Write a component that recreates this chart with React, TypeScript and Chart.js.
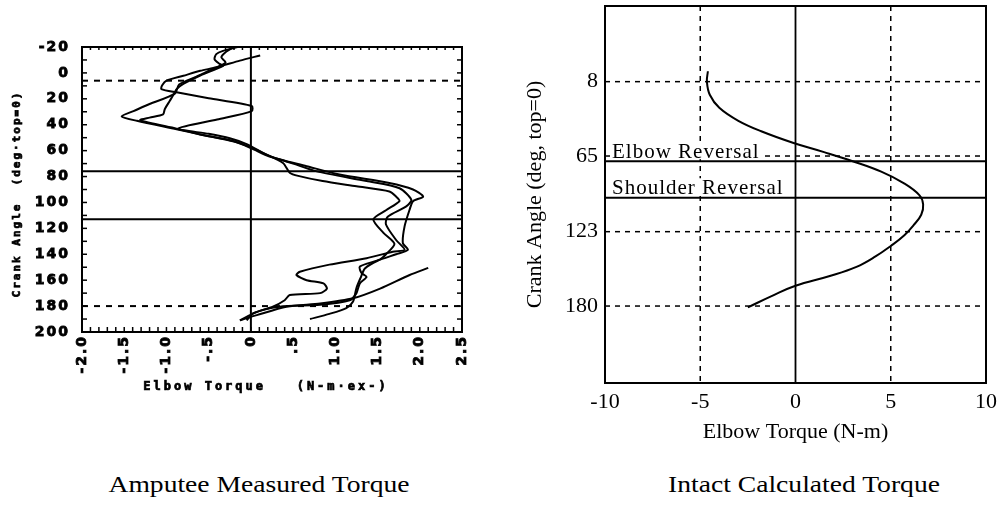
import React, { useEffect, useRef } from "react";
import { Chart, registerables } from "chart.js";

Chart.register(...registerables);

// ---------- Left chart: Amputee Measured Torque ----------
const ampXTickLabels = ["-2.0", "-1.5", "-1.0", "-.5", "0", ".5", "1.0", "1.5", "2.0", "2.5"];
const ampXTitle = "Elbow Torque   (N-m·ex-)";
const ampYTitle = "Crank Angle  (deg·top=0)";
const ampDashedAngles = [6, 180];
const ampSolidAngles = [76, 113];
const ampSolidTorques = [0];

const trial1Torque = [-0.09, -0.33, -0.41, -0.43, -0.37, -0.33, -0.6, -0.8, -0.88, -0.9, -0.96, -1.02, -1.04, -1.2, -1.31, -0.88, -0.6, -0.21, 0.0, 0.22, 0.5, 0.78, 1.37, 1.76, 1.9, 1.84, 1.62, 1.6, 1.72, 1.82, 1.68, 1.37, 0.93, 0.58, 0.54, 0.66, 0.86, 0.9, 0.82, 0.46, 0.4, 0.26, 0.07, -0.13];
const trial1Angle = [-21, -17, -14.5, -10.5, -7, -5.5, 2, 8.5, 12.5, 15, 21.5, 28, 32, 34.5, 36.5, 43, 47.5, 52.5, 57.5, 64, 70, 76, 83.5, 89, 98, 103, 111, 117, 129, 136.5, 138, 143, 148, 153.5, 156, 160, 162.5, 166.5, 170, 171.5, 175.5, 180.5, 184.5, 191];

const trial2Torque = [0.11, -0.13, -0.41, -0.6, -0.8, -1.0, -1.05, -1.06, -0.88, -0.5, 0.01, 0.01, -0.4, -0.86, -0.5, -0.25, -0.05, 0.15, 0.38, 0.46, 0.56, 0.85, 1.25, 1.64, 1.72, 1.76, 1.6, 1.45, 1.57, 1.7, 1.6, 1.53, 1.29, 1.31, 1.37, 1.29, 1.25, 1.17, 0.82, 0.34, 0.03, -0.05];
const trial2Angle = [-13.5, -9.5, -4.3, -1.6, 2.2, 6, 9.5, 12.5, 15, 19.5, 25.5, 29.5, 36, 43, 47, 50.5, 55, 62, 69.5, 77, 79.5, 83.5, 87.5, 91.5, 95.5, 99, 106, 113, 123.5, 132, 140, 144, 149.5, 154.5, 157.5, 162.5, 170, 175.5, 179, 180.5, 185.5, 191];

const trial3Torque = [-0.2, -0.3, -0.35, -0.3, -0.45, -0.65, -0.85, -0.9, -1.2, -1.39, -1.53, -1.35, -0.88, -0.6, -0.2, 0.0, 0.22, 0.66, 1.05, 1.64, 1.92, 2.04, 1.92, 1.88, 1.82, 1.8, 1.86, 1.72, 1.5, 1.35, 1.3, 1.25, 1.21, 1.13, 0.93, 0.7];
const trial3Angle = [-20, -16, -12, -8, -3, 3, 9, 16, 24, 29.5, 33.5, 37, 43.5, 47.5, 53, 58, 64.5, 72, 78.5, 85, 90, 95.5, 99, 105.5, 118.5, 131.5, 136.5, 140, 145, 151, 158, 166, 176.5, 181.5, 186, 190];

const trial4Torque = [2.1, 1.88, 1.53, 1.21, 0.82, 0.42, 0.07, -0.13];
const trial4Angle = [150.5, 156, 166.5, 174, 178, 180.5, 187, 191];

// ---------- Right chart: Intact Calculated Torque ----------
const intactTorque = [-4.6, -4.65, -4.5, -4.0, -3.0, -1.8, -0.1, 1.5, 3.0, 4.5, 5.7, 6.5, 6.7, 6.6, 6.2, 5.7, 5.0, 4.2, 3.2, 1.8, 0.0, -1.2, -2.5];
const intactAngle = [0, 8, 18, 28, 38, 46, 55, 62, 69, 77, 86, 95, 102, 110, 118, 126, 134, 142, 150, 157, 164.5, 172, 181];
const intactYTicks = [8, 65, 123, 180];
const intactDashedAngles = [8, 65, 123, 180];
const intactDashedTorques = [-5, 5];
const intactSolidAngles = [69, 97];
const intactSolidTorques = [0];
const reversalLabels = ["Elbow Reversal", "Shoulder Reversal"];
const reversalAngles = [69, 97];

const toPoints = (xs: number[], ys: number[]) => xs.map((x, i) => ({ x, y: ys[i] }));

const tickFont = { family: "'DejaVu Sans', sans-serif", weight: "bold" as const, size: 14 };
const serifFont = { family: "'Liberation Serif', 'Times New Roman', serif", size: 22 };

const leftDecor = {
  id: "leftDecor",
  beforeDraw(chart: any) {
    chart.ctx.letterSpacing = "2px";
  },
  beforeDatasetsDraw(chart: any) {
    const { ctx, chartArea, scales } = chart;
    const { left, right, top, bottom } = chartArea;
    const x = scales.x, y = scales.y;
    ctx.save();
    ctx.strokeStyle = "#000";
    ctx.lineWidth = 2;
    ctx.setLineDash([6, 6]);
    for (const a of ampDashedAngles) {
      const py = y.getPixelForValue(a);
      ctx.beginPath(); ctx.moveTo(left, py); ctx.lineTo(right, py); ctx.stroke();
    }
    ctx.setLineDash([]);
    for (const a of ampSolidAngles) {
      const py = y.getPixelForValue(a);
      ctx.beginPath(); ctx.moveTo(left, py); ctx.lineTo(right, py); ctx.stroke();
    }
    for (const t of ampSolidTorques) {
      const px = x.getPixelForValue(t);
      ctx.beginPath(); ctx.moveTo(px, top); ctx.lineTo(px, bottom); ctx.stroke();
    }
    ctx.restore();
  },
  afterDatasetsDraw(chart: any) {
    const { ctx, chartArea, scales } = chart;
    const { left, right, top, bottom } = chartArea;
    const x = scales.x, y = scales.y;
    ctx.save();
    ctx.strokeStyle = "#000";
    ctx.lineWidth = 2;
    ctx.strokeRect(left, top, right - left, bottom - top);
    ctx.lineWidth = 1.5;
    for (let v = y.min; v <= y.max + 0.001; v += 10) {
      const py = y.getPixelForValue(v);
      ctx.beginPath(); ctx.moveTo(left, py); ctx.lineTo(left + 5, py); ctx.stroke();
      ctx.beginPath(); ctx.moveTo(right, py); ctx.lineTo(right - 5, py); ctx.stroke();
    }
    for (let i = 0; i <= 45; i++) {
      const px = x.getPixelForValue(x.min + i * 0.1);
      ctx.beginPath(); ctx.moveTo(px, bottom); ctx.lineTo(px, bottom - 5); ctx.stroke();
      ctx.beginPath(); ctx.moveTo(px, top); ctx.lineTo(px, top + 3); ctx.stroke();
    }
    ctx.restore();
  },
  afterDraw(chart: any) {
    const { ctx } = chart;
    ctx.save();
    ctx.fillStyle = "#000";
    ctx.strokeStyle = "#000";
    ctx.lineWidth = 0.7;
    ctx.textAlign = "center";
    ctx.textBaseline = "middle";
    // x axis title
    ctx.font = "bold 12px 'DejaVu Sans Mono', monospace";
    ctx.letterSpacing = "3px";
    ctx.fillText(ampXTitle, 266, 387);
    ctx.strokeText(ampXTitle, 266, 387);
    // y axis title
    ctx.font = "bold 11px 'DejaVu Sans Mono', monospace";
    ctx.letterSpacing = "2px";
    ctx.translate(17, 194);
    ctx.rotate(-Math.PI / 2);
    ctx.fillText(ampYTitle, 0, 0);
    ctx.strokeText(ampYTitle, 0, 0);
    ctx.restore();
    ctx.letterSpacing = "0px";
  },
};

const rightDecor = {
  id: "rightDecor",
  beforeDatasetsDraw(chart: any) {
    const { ctx, chartArea, scales } = chart;
    const { left, right, top, bottom } = chartArea;
    const x = scales.x, y = scales.y;
    ctx.save();
    ctx.strokeStyle = "#000";
    ctx.lineWidth = 1.5;
    ctx.setLineDash([5, 5]);
    for (const a of intactDashedAngles) {
      const py = y.getPixelForValue(a);
      ctx.beginPath(); ctx.moveTo(left, py); ctx.lineTo(right, py); ctx.stroke();
    }
    for (const t of intactDashedTorques) {
      const px = x.getPixelForValue(t);
      ctx.beginPath(); ctx.moveTo(px, top); ctx.lineTo(px, bottom); ctx.stroke();
    }
    ctx.setLineDash([]);
    ctx.lineWidth = 1.8;
    for (const a of intactSolidAngles) {
      const py = y.getPixelForValue(a);
      ctx.beginPath(); ctx.moveTo(left, py); ctx.lineTo(right, py); ctx.stroke();
    }
    for (const t of intactSolidTorques) {
      const px = x.getPixelForValue(t);
      ctx.beginPath(); ctx.moveTo(px, top); ctx.lineTo(px, bottom); ctx.stroke();
    }
    // reversal labels
    ctx.font = "21px 'Liberation Serif', 'Times New Roman', serif";
    (ctx as any).letterSpacing = "1px";
    ctx.textBaseline = "alphabetic";
    ctx.textAlign = "left";
    reversalLabels.forEach((label, i) => {
      const by = y.getPixelForValue(reversalAngles[i]) - 3.5;
      const tx = left + 7;
      const w = ctx.measureText(label).width;
      ctx.fillStyle = "#fff";
      ctx.fillRect(tx - 1, by - 16, w + 2, 17.5);
      ctx.fillStyle = "#000";
      ctx.fillText(label, tx, by);
    });
    (ctx as any).letterSpacing = "0px";
    ctx.restore();
  },
  afterDatasetsDraw(chart: any) {
    const { ctx, chartArea } = chart;
    const { left, right, top, bottom } = chartArea;
    ctx.save();
    ctx.strokeStyle = "#000";
    ctx.lineWidth = 2;
    ctx.strokeRect(left, top, right - left, bottom - top);
    ctx.restore();
  },
};

function AmputeeChart() {
  const ref = useRef<HTMLCanvasElement | null>(null);
  useEffect(() => {
    if (!ref.current) return;
    const lineStyle = { showLine: true, pointRadius: 0, borderColor: "#000", borderWidth: 2, tension: 0.25, fill: false };
    const chart = new Chart(ref.current, {
      type: "scatter",
      data: {
        datasets: [
          { label: "Trial 1", data: toPoints(trial1Torque, trial1Angle), ...lineStyle },
          { label: "Trial 2", data: toPoints(trial2Torque, trial2Angle), ...lineStyle },
          { label: "Trial 3", data: toPoints(trial3Torque, trial3Angle), ...lineStyle },
          { label: "Trial 4", data: toPoints(trial4Torque, trial4Angle), ...lineStyle },
        ],
      },
      options: {
        responsive: false,
        animation: false,
        layout: { padding: { left: 0, right: 18, top: 47, bottom: 0 } },
        plugins: { legend: { display: false }, tooltip: { enabled: false } },
        scales: {
          x: {
            type: "linear",
            min: -2,
            max: 2.5,
            grid: { display: false, drawTicks: false },
            border: { display: false },
            ticks: {
              stepSize: 0.5,
              autoSkip: false,
              minRotation: 90,
              maxRotation: 90,
              padding: 3,
              color: "#000",
              textStrokeColor: "#000",
              textStrokeWidth: 0.8,
              font: tickFont,
              callback: (_v: any, i: number) => ampXTickLabels[i],
            },
            title: { display: false },
            afterFit: (s: any) => { s.height = 88; s.paddingLeft = 0; s.paddingRight = 0; },
          },
          y: {
            type: "linear",
            reverse: true,
            min: -20,
            max: 200,
            grid: { display: false, drawTicks: false },
            border: { display: false },
            ticks: { stepSize: 20, padding: 12, color: "#000", textStrokeColor: "#000", textStrokeWidth: 0.8, font: tickFont },
            title: { display: false },
            afterFit: (s: any) => { s.width = 82; s.paddingTop = 0; s.paddingBottom = 0; },
          },
        },
      },
      plugins: [leftDecor],
    } as any);
    return () => chart.destroy();
  }, []);
  return <canvas ref={ref} width={480} height={420} style={{ position: "absolute", left: 0, top: 0, width: 480, height: 420 }} />;
}

function IntactChart() {
  const ref = useRef<HTMLCanvasElement | null>(null);
  useEffect(() => {
    if (!ref.current) return;
    const chart = new Chart(ref.current, {
      type: "scatter",
      data: {
        datasets: [
          {
            label: "Intact",
            data: toPoints(intactTorque, intactAngle),
            showLine: true,
            pointRadius: 0,
            borderColor: "#000",
            borderWidth: 2,
            tension: 0.4,
            fill: false,
          },
        ],
      },
      options: {
        responsive: false,
        animation: false,
        layout: { padding: { left: 0, right: 17, top: 6, bottom: 0 } },
        plugins: { legend: { display: false }, tooltip: { enabled: false } },
        scales: {
          x: {
            type: "linear",
            min: -10,
            max: 10,
            grid: { display: false, drawTicks: false },
            border: { display: false },
            ticks: { stepSize: 5, maxRotation: 0, padding: 6, color: "#000", font: serifFont },
            title: {
              display: true,
              text: "Elbow Torque (N-m)",
              color: "#000",
              font: serifFont,
              padding: { top: 0, bottom: 5 },
            },
            afterFit: (s: any) => { s.height = 67; s.paddingLeft = 0; s.paddingRight = 0; },
          },
          y: {
            type: "linear",
            reverse: true,
            min: -50,
            max: 239,
            grid: { display: false, drawTicks: false },
            border: { display: false },
            afterBuildTicks: (s: any) => { s.ticks = intactYTicks.map((v) => ({ value: v })); },
            ticks: { padding: 7, color: "#000", font: serifFont },
            title: {
              display: true,
              text: "Crank Angle (deg, top=0)",
              color: "#000",
              font: serifFont,
              padding: { top: 42, bottom: 0 },
            },
            afterFit: (s: any) => { s.width = 125; s.paddingTop = 0; s.paddingBottom = 0; },
          },
        },
      },
      plugins: [rightDecor],
    } as any);
    return () => chart.destroy();
  }, []);
  return <canvas ref={ref} width={523} height={450} style={{ position: "absolute", left: 480, top: 0, width: 523, height: 450 }} />;
}

export default function App() {
  const caption: React.CSSProperties = {
    position: "absolute",
    top: 472,
    fontFamily: "'Liberation Serif', 'Times New Roman', serif",
    fontSize: 23,
    lineHeight: "26px",
    textAlign: "center",
    color: "#000",
    whiteSpace: "nowrap",
    transform: "scaleX(1.2)",
    transformOrigin: "50% 50%",
  };
  return (
    <div style={{ position: "fixed", left: 0, top: 0, width: 1003, height: 512, background: "#fff", overflow: "hidden" }}>
      <AmputeeChart />
      <IntactChart />
      <div style={{ ...caption, left: 0, width: 518 }}>Amputee Measured Torque</div>
      <div style={{ ...caption, left: 604, width: 400 }}>Intact Calculated Torque</div>
    </div>
  );
}
